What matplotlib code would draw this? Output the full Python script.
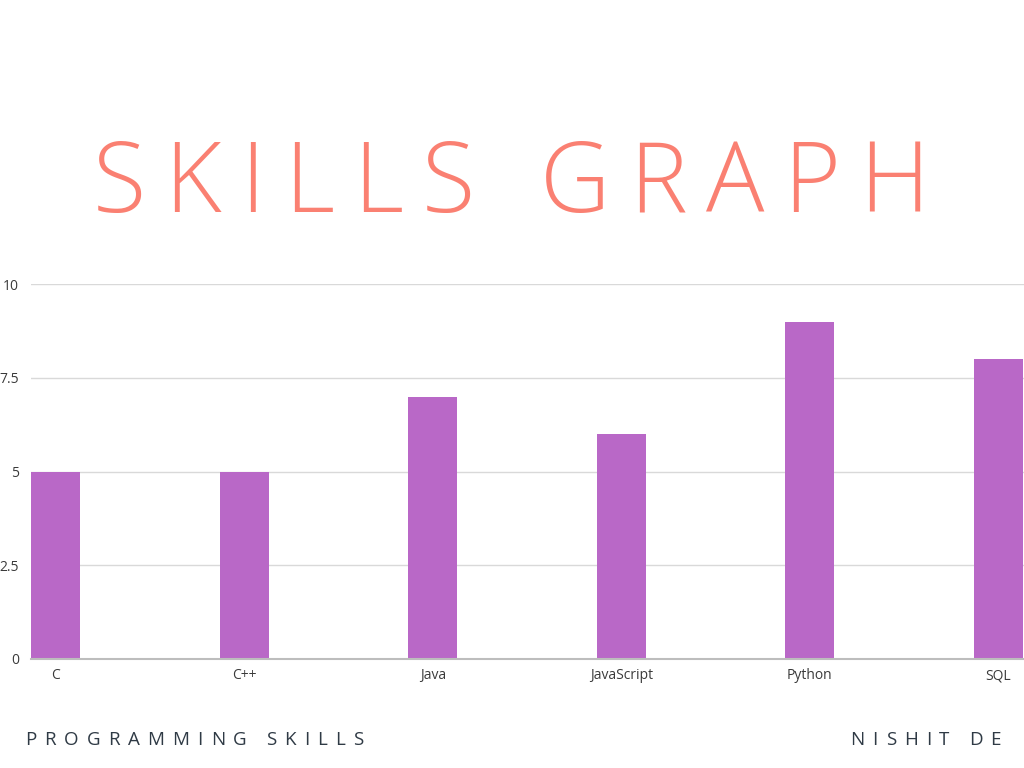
import matplotlib
matplotlib.use("Agg")
import matplotlib.pyplot as plt

categories = ["C", "C++", "Java", "JavaScript", "Python", "SQL"]
values = [5, 5, 7, 6, 9, 8]
yticks = [0, 2.5, 5, 7.5, 10]
ytick_labels = ["0", "2.5", "5", "7.5", "10"]

title = "SKILLS GRAPH"
left_caption = "PROGRAMMING SKILLS"
right_caption = "NISHIT DE"

plt.rcParams['font.family'] = ['Open Sans', 'DejaVu Sans']

fig = plt.figure(figsize=(10.24, 7.68), dpi=100)
fig.patch.set_facecolor("white")
ax = fig.add_axes([31/1024, 109/768, 993/1024, 375/768])

x = list(range(len(categories)))
ax.bar(x, values, width=0.26, color="#B968C7", zorder=3)
ax.set_xlim(-0.13, 5.135)
ax.set_ylim(0, 10)
ax.set_yticks(yticks)
ax.set_yticklabels(ytick_labels)
ax.set_xticks(x)
ax.set_xticklabels(categories)
ax.tick_params(axis='both', length=0, labelsize=10, labelcolor="#3a3a3a")
ax.tick_params(axis='y', pad=8.5)
ax.tick_params(axis='x', pad=6.5)
ax.grid(axis='y', color="#d9d9d9", linewidth=1, zorder=0)
for s in ["top", "right", "left"]:
    ax.spines[s].set_visible(False)
ax.spines["bottom"].set_color("#bdbdbd")
ax.spines["bottom"].set_linewidth(1.5)
ax.spines["bottom"].set_zorder(4)

renderer = fig.canvas.get_renderer()

def tracked_text(s, x0, y, size, color, tracking, align="left", weight="light", space=0.28):
    widths = []
    for ch in s:
        if ch == " ":
            widths.append(size * 100 / 72 * space)
        else:
            t = fig.text(0, 0, ch, fontsize=size, weight=weight)
            w = t.get_window_extent(renderer).width
            t.remove()
            widths.append(w)
    total = sum(widths) + tracking * (len(s) - 1)
    if align == "center":
        start = x0 - total / 2
    elif align == "right":
        start = x0 - total
    else:
        start = x0
    cur = start
    for ch, w in zip(s, widths):
        if ch != " ":
            fig.text(cur / 1024, y / 768, ch, fontsize=size, color=color,
                     weight=weight, ha="left", va="baseline")
        cur += w + tracking

tracked_text(title, 511, 768 - 212, 70, "#FA8072", 19, align="center", weight="light")
tracked_text(left_caption, 25, 768 - 745, 13.5, "#2f3a45", 8.0, align="left", weight="normal", space=0.18)
tracked_text(right_caption, 1001, 768 - 745, 13.5, "#2f3a45", 8.0, align="right", weight="normal", space=0.18)

fig.savefig("out.png", dpi=100)
